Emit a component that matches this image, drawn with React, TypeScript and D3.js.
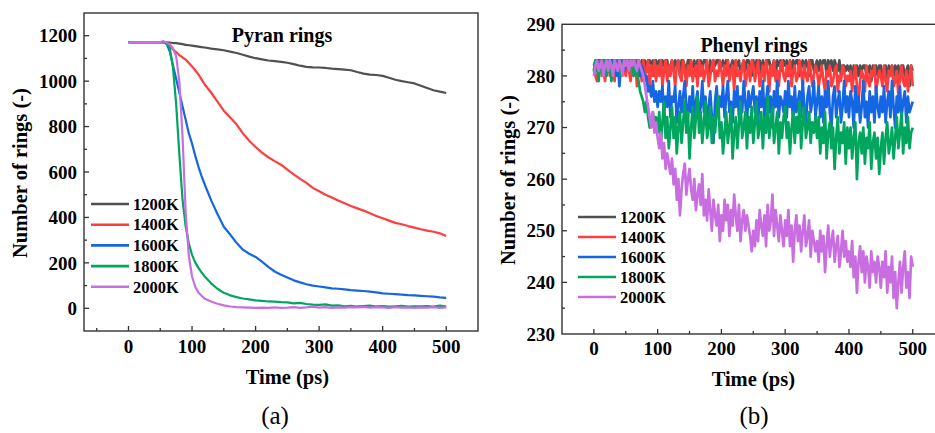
import React from "react";
import * as d3 from "d3";

// ---------------- DATA ----------------
const seriesNames = ["1200K", "1400K", "1600K", "1800K", "2000K"];
const seriesColors = ["#505050", "#ff3d3d", "#1566e3", "#00a65e", "#c86ee0"];

// Panel (a): Pyran rings
const timeA = [0, 10, 20, 30, 40, 50, 55, 60, 65, 70, 75, 80, 85, 90, 95, 100, 105, 110, 115, 120,
  130, 140, 150, 160, 170, 180, 190, 200, 210, 220, 230, 240, 250, 260, 270, 280, 290, 300, 310, 320,
  330, 340, 350, 360, 370, 380, 390, 400, 410, 420, 430, 440, 450, 460, 470, 480, 490, 500];
const pyran1200 = [1172, 1172, 1172, 1172, 1172, 1172, 1172, 1171, 1170, 1168, 1167, 1165, 1163, 1160, 1158, 1156, 1154, 1152, 1150, 1148,
  1143, 1140, 1136, 1130, 1124, 1116, 1108, 1101, 1096, 1091, 1088, 1085, 1081, 1075, 1068, 1063, 1061, 1060, 1058, 1055,
  1053, 1051, 1048, 1040, 1033, 1029, 1027, 1023, 1015, 1006, 1000, 995, 990, 980, 970, 960, 954, 948];
const pyran1400 = [1172, 1172, 1172, 1172, 1172, 1172, 1172, 1168, 1155, 1140, 1128, 1115, 1105, 1095, 1080, 1065, 1048, 1030, 1008, 985,
  950, 910, 870, 840, 810, 770, 738, 710, 685, 665, 648, 632, 610, 590, 570, 552, 530, 515, 500, 488,
  475, 462, 450, 440, 430, 418, 406, 396, 386, 376, 370, 362, 355, 348, 342, 337, 330, 318];
const pyran1600 = [1172, 1172, 1172, 1172, 1172, 1172, 1172, 1165, 1130, 1070, 1010, 950, 890, 830, 770, 725, 672, 624, 582, 545,
  476, 415, 359, 325, 288, 258, 240, 226, 205, 182, 162, 148, 136, 123, 114, 106, 100, 96, 92, 88,
  86, 83, 80, 78, 76, 73, 70, 66, 64, 62, 60, 58, 57, 55, 53, 51, 48, 46];
const pyran1800 = [1172, 1172, 1172, 1172, 1172, 1172, 1172, 1165, 1145, 1060, 900, 680, 480, 360, 285, 235, 202, 178, 158, 140,
  110, 86, 68, 57, 49, 43, 39, 35, 33, 30, 29, 27, 26, 22, 24, 19, 16, 15, 17, 12,
  13, 9, 11, 8, 10, 12, 8, 10, 7, 9, 11, 7, 9, 8, 10, 7, 12, 8];
const pyran2000 = [1172, 1172, 1172, 1172, 1172, 1172, 1176, 1170, 1162, 1145, 1110, 1000, 760, 420, 230, 140, 95, 70, 55, 42,
  30, 20, 13, 8, 5, 4, 3, 2, 3, 2, 4, 2, 3, 5, 2, 4, 7, 3, 5, 2,
  4, 3, 5, 4, 6, 3, 5, 4, 2, 5, 3, 4, 2, 4, 3, 5, 2, 4];

// Panel (b): Phenyl rings, sampled every 2.5 ps from 0 to 500 ps
const timeStepB = 2.5;
const phenyl1200 = [
  281, 282, 283, 283, 282, 283, 283, 282, 283, 283, 282, 283, 283, 283, 282, 283, 283, 283, 282, 283,
  283, 282, 283, 283, 281, 283, 282, 283, 283, 280, 283, 282, 283, 281, 283, 283, 282, 283, 280, 283,
  282, 283, 281, 283, 282, 283, 283, 280, 282, 283, 281, 283, 282, 283, 280, 283, 283, 282, 281, 283,
  283, 281, 282, 283, 280, 283, 282, 283, 281, 283, 283, 282, 280, 283, 281, 283, 282, 283, 283, 281,
  282, 283, 281, 283, 283, 280, 282, 283, 281, 283, 282, 283, 280, 282, 283, 281, 283, 283, 282, 280,
  283, 281, 283, 282, 283, 280, 283, 282, 281, 283, 283, 281, 282, 283, 280, 283, 282, 283, 281, 283,
  282, 283, 280, 283, 281, 283, 282, 283, 283, 280, 282, 283, 281, 283, 282, 280, 283, 283, 281, 282,
  283, 281, 283, 282, 283, 283, 280, 283, 282, 283, 281, 283, 282, 281, 283, 280, 282, 282, 281, 282,
  281, 282, 279, 282, 281, 282, 280, 282, 281, 282, 282, 280, 281, 282, 279, 282, 281, 282, 280, 282,
  282, 280, 281, 282, 279, 282, 281, 282, 280, 282, 281, 282, 279, 282, 282, 280, 281, 282, 278, 282,
  281];
const phenyl1400 = [
  281, 280, 279, 282, 283, 280, 281, 279, 282, 283, 280, 281, 282, 279, 283, 281, 280, 282, 283, 281,
  280, 283, 281, 279, 282, 280, 283, 278, 281, 282, 279, 283, 280, 281, 283, 278, 282, 280, 283, 279,
  282, 280, 283, 278, 281, 283, 279, 282, 280, 283, 281, 278, 282, 283, 280, 279, 283, 281, 278, 282,
  280, 283, 279, 281, 282, 278, 283, 280, 282, 279, 281, 283, 278, 280, 282, 283, 279, 281, 280, 283,
  281, 278, 282, 280, 283, 279, 281, 282, 277, 283, 280, 281, 279, 282, 283, 278, 280, 282, 279, 283,
  282, 279, 281, 283, 278, 280, 282, 279, 283, 281, 277, 282, 280, 283, 279, 281, 278, 282, 283, 280,
  279, 282, 280, 283, 278, 281, 282, 279, 280, 283, 281, 278, 282, 280, 279, 283, 281, 278, 280, 282,
  281, 278, 280, 282, 279, 277, 281, 280, 282, 278, 279, 281, 282, 277, 280, 279, 282, 281, 278, 280,
  279, 281, 277, 280, 282, 278, 275, 279, 281, 280, 277, 282, 279, 278, 281, 280, 282, 277, 279, 281,
  280, 278, 282, 279, 277, 281, 280, 282, 278, 279, 281, 276, 280, 282, 279, 278, 281, 277, 280, 282,
  278];
const phenyl1600 = [
  282, 283, 281, 282, 283, 282, 281, 283, 282, 283, 281, 282, 283, 282, 280, 283, 278, 282, 283, 281,
  283, 282, 281, 283, 282, 283, 281, 282, 283, 280, 282, 281, 279, 280, 277, 278, 276, 279, 275, 277,
  274, 277, 275, 278, 273, 276, 274, 279, 272, 276, 275, 278, 271, 274, 277, 273, 276, 279, 274, 272,
  276, 273, 278, 271, 275, 277, 272, 274, 279, 273, 276, 270, 274, 277, 272, 267, 275, 278, 273, 276,
  274, 278, 272, 276, 279, 273, 275, 271, 277, 274, 278, 272, 276, 273, 279, 275, 271, 277, 274, 276,
  278, 273, 276, 271, 277, 274, 279, 272, 275, 278, 273, 276, 270, 277, 274, 279, 272, 276, 275, 273,
  277, 272, 279, 274, 276, 271, 278, 273, 275, 277, 272, 279, 274, 271, 276, 278, 273, 275, 279, 272,
  275, 278, 272, 276, 271, 277, 274, 279, 273, 270, 276, 278, 272, 275, 277, 271, 274, 279, 273, 276,
  272, 277, 275, 270, 278, 273, 276, 271, 274, 279, 272, 275, 270, 277, 273, 276, 271, 278, 274, 272,
  276, 273, 278, 271, 275, 277, 272, 279, 274, 270, 276, 273, 278, 272, 275, 277, 271, 276, 273, 274,
  275];
const phenyl1800 = [
  281, 283, 282, 279, 283, 282, 281, 283, 280, 282, 283, 279, 282, 283, 281, 282, 283, 280, 282, 283,
  282, 283, 281, 282, 283, 280, 282, 281, 279, 277, 276, 275, 273, 275, 272, 270, 271, 273, 270, 272,
  269, 273, 267, 271, 275, 268, 272, 266, 270, 274, 268, 272, 265, 270, 273, 267, 271, 275, 269, 273,
  264, 270, 274, 268, 272, 276, 269, 273, 267, 271, 275, 268, 270, 274, 267, 272, 269, 273, 276, 268,
  271, 265, 269, 273, 267, 270, 274, 264, 269, 272, 266, 271, 275, 268, 270, 273, 266, 272, 269, 274,
  267, 271, 275, 268, 270, 273, 266, 272, 269, 276, 268, 271, 274, 267, 270, 273, 265, 271, 268, 272,
  274, 268, 271, 265, 270, 273, 267, 272, 269, 275, 266, 271, 274, 268, 270, 273, 267, 271, 269, 272,
  268, 272, 265, 270, 267, 273, 264, 269, 271, 266, 270, 262, 268, 272, 265, 269, 267, 271, 263, 270,
  266, 270, 264, 268, 271, 260, 267, 269, 265, 270, 263, 268, 266, 271, 262, 267, 269, 264, 268, 261,
  266, 269, 263, 268, 271, 265, 267, 270, 264, 268, 272, 266, 269, 273, 265, 270, 267, 272, 266, 269,
  270];
const phenyl2000 = [
  280, 282, 283, 281, 282, 283, 280, 282, 283, 281, 283, 282, 280, 283, 282, 281, 283, 282, 280, 283,
  282, 283, 281, 283, 282, 283, 282, 281, 283, 282, 281, 280, 278, 276, 274, 272, 270, 273, 269, 271,
  268, 266, 269, 264, 267, 262, 265, 263, 261, 264, 259, 262, 256, 260, 253, 258, 261, 263, 257, 260,
  262, 258, 256, 260, 254, 257, 259, 255, 261, 253, 256, 252, 258, 254, 250, 256, 253, 251, 255, 248,
  253, 250, 256, 252, 255, 249, 254, 251, 257, 253, 250, 255, 248, 252, 254, 250, 253, 251, 249, 246,
  250, 247, 252, 248, 254, 251, 249, 253, 247, 255, 250, 252, 257, 249, 254, 251, 248, 253, 250, 247,
  252, 249, 254, 247, 251, 244, 250, 253, 248, 251, 246, 250, 253, 247, 249, 252, 245, 250, 248, 246,
  248, 244, 250, 246, 249, 242, 247, 251, 245, 248, 250, 244, 247, 249, 243, 246, 250, 245, 248, 244,
  246, 243, 248, 241, 245, 238, 244, 247, 242, 246, 240, 245, 243, 239, 246, 242, 244, 240, 245, 243,
  239, 244, 241, 246, 238, 243, 240, 245, 237, 242, 235, 240, 244, 238, 243, 246, 239, 242, 237, 245,
  243];

const xTicks = [0, 100, 200, 300, 400, 500];
const yTicksA = [0, 200, 400, 600, 800, 1000, 1200];
const yTicksB = [230, 240, 250, 260, 270, 280, 290];

// ---------------- LAYOUT ----------------
const FONT = "'Times New Roman', 'Liberation Serif', serif";
const AXIS = "#333";

type PanelProps = {
  x0: number; x1: number; y0: number; y1: number;
  xDomain: [number, number]; yDomain: [number, number];
  yTicks: number[]; yMinorStep: number;
  series: { x: number[]; y: number[] }[];
  title: string; titleX: number; titleY: number;
  legendX: number; legendY: number; legendGap: number;
  yTitleX: number; yTitleY: number;
  xTickLabelY: number; xTitleY: number;
  tagLabel: string; tagX: number; tagY: number;
  lineWidth: number; clipId: string;
};

function Panel(p: PanelProps) {
  const xs = d3.scaleLinear().domain(p.xDomain).range([p.x0, p.x1]);
  const ys = d3.scaleLinear().domain(p.yDomain).range([p.y1, p.y0]);
  const minorX = d3.range(Math.ceil(p.xDomain[0] / 50) * 50, p.xDomain[1] + 0.01, 50)
    .filter((v) => xs(v) > p.x0 + 1 && xs(v) < p.x1 - 1);
  const minorY = d3.range(p.yDomain[0], p.yDomain[1] + 0.01, p.yMinorStep)
    .filter((v) => ys(v) < p.y1 - 1 && ys(v) > p.y0 + 1);
  const line = d3.line<[number, number]>().x((d) => xs(d[0])).y((d) => ys(d[1]));
  return (
    <g>
      <defs>
        <clipPath id={p.clipId}>
          <rect x={p.x0} y={p.y0} width={p.x1 - p.x0} height={p.y1 - p.y0} />
        </clipPath>
      </defs>
      <g clipPath={`url(#${p.clipId})`}>
        {p.series.map((s, i) => (
          <path key={i}
            d={line(s.x.map((xv, j) => [xv, s.y[j]] as [number, number])) || ""}
            fill="none" stroke={seriesColors[i]} strokeWidth={p.lineWidth}
            strokeLinejoin="round" />
        ))}
      </g>
      <rect x={p.x0} y={p.y0} width={p.x1 - p.x0} height={p.y1 - p.y0}
        fill="none" stroke={AXIS} strokeWidth={1.4} />
      {minorX.map((v) => {
        const major = v % 100 === 0;
        return <line key={"xt" + v} x1={xs(v)} x2={xs(v)} y1={p.y1} y2={p.y1 - (major ? 5 : 3)}
          stroke={AXIS} strokeWidth={1.3} />;
      })}
      {xTicks.map((v) => (
        <text key={"xl" + v} x={xs(v)} y={p.xTickLabelY} textAnchor="middle"
          fontFamily={FONT} fontWeight="bold" fontSize={19}>{v}</text>
      ))}
      {minorY.map((v) => {
        const major = p.yTicks.includes(v);
        return <line key={"yt" + v} x1={p.x0} x2={p.x0 + (major ? 5 : 3)} y1={ys(v)} y2={ys(v)}
          stroke={AXIS} strokeWidth={1.3} />;
      })}
      {p.yTicks.map((v) => (
        <text key={"yl" + v} x={p.x0 - 7} y={ys(v)} dy="0.35em" textAnchor="end"
          fontFamily={FONT} fontWeight="bold" fontSize={19}>{v}</text>
      ))}
      <text x={p.titleX} y={p.titleY} textAnchor="middle" fontFamily={FONT}
        fontWeight="bold" fontSize={20}>{p.title}</text>
      <text x={xs(250)} y={p.xTitleY} textAnchor="middle" fontFamily={FONT}
        fontWeight="bold" fontSize={20.5}>Time (ps)</text>
      <text transform={`translate(${p.yTitleX},${p.yTitleY}) rotate(-90)`} textAnchor="middle"
        fontFamily={FONT} fontWeight="bold" fontSize={20.5}>Number of rings (-)</text>
      {seriesNames.map((n, i) => {
        const yy = p.legendY + i * p.legendGap;
        return (
          <g key={n}>
            <line x1={p.legendX} x2={p.legendX + 38} y1={yy} y2={yy}
              stroke={seriesColors[i]} strokeWidth={2.6} />
            <text x={p.legendX + 42} y={yy} dy="0.35em" fontFamily={FONT}
              fontWeight="bold" fontSize={16.5}>{n}</text>
          </g>
        );
      })}
      <text x={p.tagX} y={p.tagY} textAnchor="middle" fontFamily={FONT} fontSize={25}>{p.tagLabel}</text>
    </g>
  );
}

export default function App() {
  const timeB = d3.range(phenyl1200.length).map((i) => i * timeStepB);
  const seriesA = [pyran1200, pyran1400, pyran1600, pyran1800, pyran2000].map((y) => ({ x: timeA, y }));
  const seriesB = [phenyl1200, phenyl1400, phenyl1600, phenyl1800, phenyl2000].map((y) => ({ x: timeB, y }));
  return (
    <svg width={935} height={433} style={{ position: "absolute", left: 0, top: 0, background: "#fff" }}>
      <rect x={0} y={0} width={935} height={433} fill="#fff" />
      <Panel x0={84} x1={478} y0={13} y1={331} xDomain={[-70, 550]} yDomain={[-100, 1300]}
        yTicks={yTicksA} yMinorStep={100} series={seriesA}
        title="Pyran rings" titleX={282} titleY={42}
        legendX={91} legendY={204} legendGap={20.7}
        yTitleX={27} yTitleY={173} xTickLabelY={353} xTitleY={384}
        tagLabel="(a)" tagX={275} tagY={424} lineWidth={2.2} clipId="clipA" />
      <Panel x0={562} x1={944.6} y0={24.3} y1={334} xDomain={[-50, 550]} yDomain={[230, 290]}
        yTicks={yTicksB} yMinorStep={5} series={seriesB}
        title="Phenyl rings" titleX={754} titleY={52}
        legendX={578} legendY={217} legendGap={20}
        yTitleX={515} yTitleY={180} xTickLabelY={355} xTitleY={386}
        tagLabel="(b)" tagX={754} tagY={424} lineWidth={2.7} clipId="clipB" />
    </svg>
  );
}
